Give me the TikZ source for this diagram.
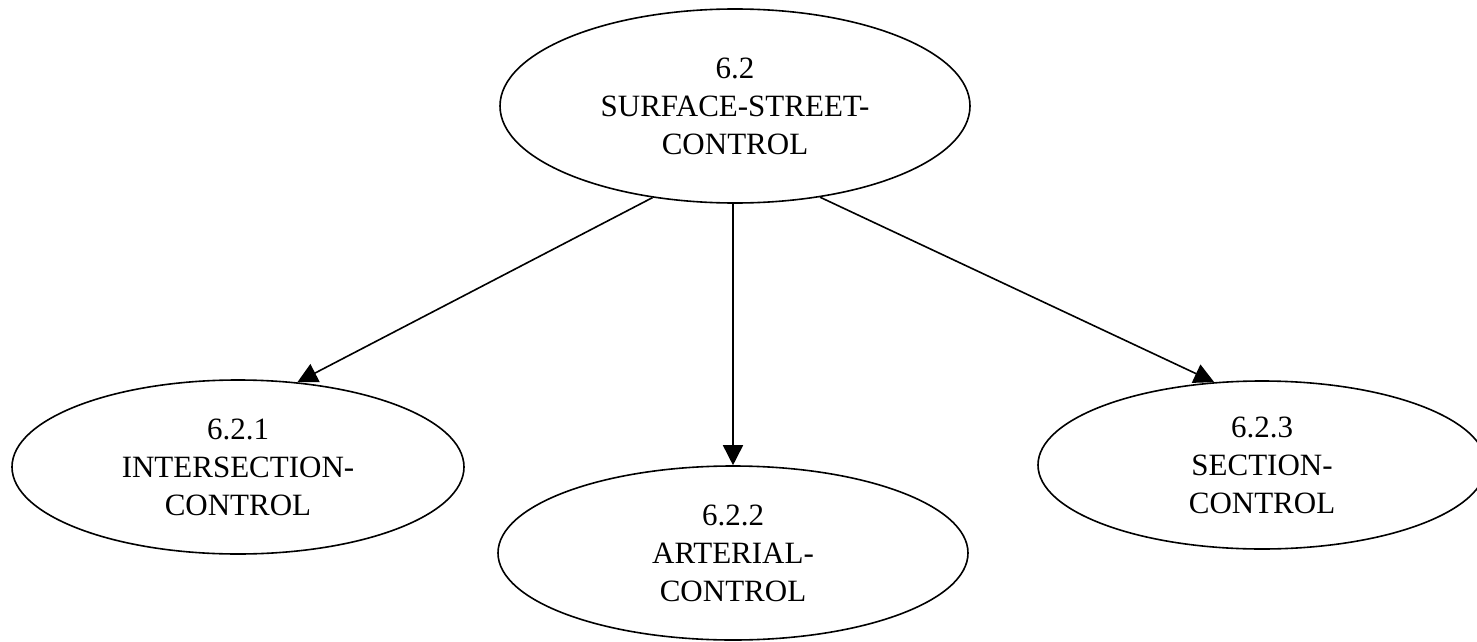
\documentclass[tikz,border=0pt]{standalone}
\usepackage{fontspec}
\setmainfont{Liberation Serif}
\usetikzlibrary{shapes.geometric,arrows.meta}
\begin{document}
\begin{tikzpicture}[x=1pt,y=-1pt,
  bubble/.style={draw,ellipse,line width=1.6pt,inner sep=0pt,align=center,
    font=\fontsize{31}{38}\selectfont},
  link/.style={line width=1.6pt,-{Triangle[length=20pt,width=20pt]}}]
\useasboundingbox (0,0) rectangle (1477,642);
\fill[white] (0,0) rectangle (1477,642);
% parent process
\node[bubble,minimum width=470pt,minimum height=194pt] (top) at (735,106)
  {6.2\\SURFACE-STREET-\\CONTROL};
% child processes
\node[bubble,minimum width=452pt,minimum height=174pt] (inter) at (238,467)
  {6.2.1\\INTERSECTION-\\CONTROL};
\node[bubble,minimum width=470pt,minimum height=174pt] (art) at (733,553)
  {6.2.2\\ARTERIAL-\\CONTROL};
\node[bubble,minimum width=448pt,minimum height=168pt] (sec) at (1262,465)
  {6.2.3\\SECTION-\\CONTROL};
% refinement arrows
\draw[link] (top.228) -- (inter.55);
\draw[link] (top.south -| art.north) -- (art.north);
\draw[link] (top.313) -- (sec.120);
\end{tikzpicture}
\end{document}
